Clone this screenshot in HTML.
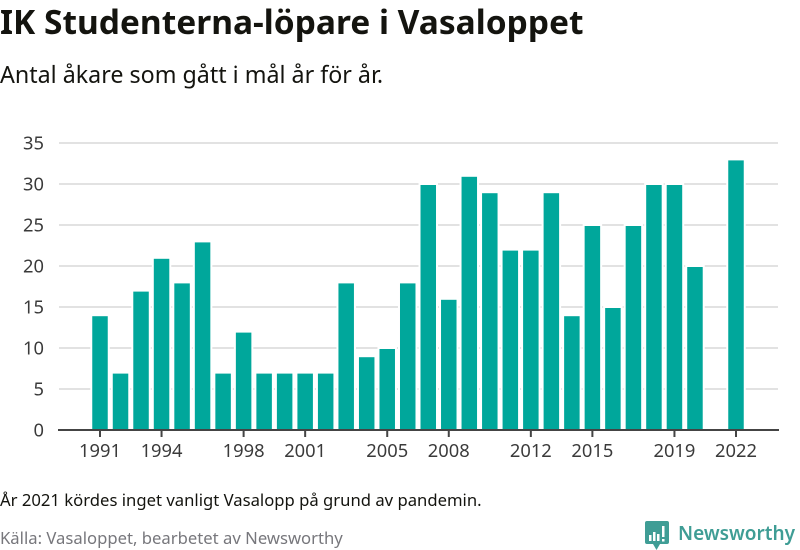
<!DOCTYPE html>
<html lang="sv">
<head>
<meta charset="utf-8">
<title>IK Studenterna-löpare i Vasaloppet</title>
<style>
html,body{margin:0;padding:0;background:#fff;width:800px;height:550px;overflow:hidden}
svg{display:block}
text{font-family:"Noto Sans","DejaVu Sans","Liberation Sans",sans-serif}
</style>
</head>
<body>
<svg id="chart" width="800" height="550" viewBox="0 0 800 550">
  <text x="0" y="34" font-size="33.5" font-weight="700" fill="#14140f">IK Studenterna-löpare i Vasaloppet</text>
  <text x="0" y="83" font-size="23.25" fill="#14140f">Antal åkare som gått i mål år för år.</text>
  <g id="grid"></g>
  <g id="bars"></g>
  <g id="axis"></g>
  <text x="0" y="506" font-size="16.67" fill="#14140f">År 2021 kördes inget vanligt Vasalopp på grund av pandemin.</text>
  <text x="0" y="544" font-size="16.67" fill="#77777c">Källa: Vasaloppet, bearbetet av Newsworthy</text>
  <g>
    <path d="M647 521h20a2 2 0 0 1 2 2v19a2 2 0 0 1-2 2h-7l-3.500 6-3.500-6h-6a2 2 0 0 1-2-2v-19a2 2 0 0 1 2-2z" fill="#3f9d95"/>
    <path d="M649 535h2.500v6h-2.500zM653 532h2.500v9h-2.500zM657 534h2.500v7h-2.500zM662 526h2.500v11h-2.500zM662 539h2.500v2.500h-2.500z" fill="#fff"/>
    <text x="678" y="540" font-size="20" font-weight="600" fill="#3f9d95" textLength="117" lengthAdjust="spacingAndGlyphs">Newsworthy</text>
  </g>
</svg>
<script>
const years = [1991,1992,1993,1994,1995,1996,1997,1998,1999,2000,2001,2002,2003,2004,2005,2006,2007,2008,2009,2010,2011,2012,2013,2014,2015,2016,2017,2018,2019,2020,2021,2022];
const finishers = [14,7,17,21,18,23,7,12,7,7,7,7,18,9,10,18,30,16,31,29,22,22,29,14,25,15,25,30,30,20,null,33];
const yTicks = [0,5,10,15,20,25,30,35];
const xTicks = [1991,1994,1998,2001,2005,2008,2012,2015,2019,2022];

const NS = 'http://www.w3.org/2000/svg';
const x = function (year) { return 100 + (year - years[0]) * (636 / (years[years.length - 1] - years[0])); };
const y = function (value) { return 430 - value * 8.2; };
const gridG = document.getElementById('grid');
const barsG = document.getElementById('bars');
const axisG = document.getElementById('axis');

function make(tag, attrs, parent, content) {
  const el = document.createElementNS(NS, tag);
  Object.keys(attrs).forEach(function (k) { el.setAttribute(k, attrs[k]); });
  if (content !== undefined) el.textContent = content;
  parent.appendChild(el);
  return el;
}

yTicks.forEach(function (t) {
  if (t > 0) {
    const line = make('line', {x1: 59, x2: 778, y1: y(t), y2: y(t), stroke: '#e2e2e2', 'stroke-width': 2}, gridG);
    
    
  }
  const label = make('text', {x: 44, y: y(t) + 6.5, 'text-anchor': 'end', 'font-size': 18.33, fill: '#3a3a3a'}, axisG, String(t));
  
  
});

years.forEach(function (year, i) {
  const v = finishers[i];
  if (v === null) return;
  const top = y(v);
  const bar = make('rect', {x: x(year) - 8.75, y: top, width: 17.5, height: 430 - top, fill: '#00a79b', stroke: '#fff', 'stroke-width': 2}, barsG);
  
  
});

const axisLine = make('line', {x1: 58, x2: 779, y1: 430, y2: 430, stroke: '#444', 'stroke-width': 2}, axisG);



xTicks.forEach(function (year) {
  const tick = make('line', {x1: x(year), x2: x(year), y1: 430, y2: 437, stroke: '#444', 'stroke-width': 2}, axisG);
  
  
  const label = make('text', {x: x(year), y: 457, 'text-anchor': 'middle', 'font-size': 18.33, fill: '#3a3a3a'}, axisG, String(year));
  
  
});
</script>
</body>
</html>
